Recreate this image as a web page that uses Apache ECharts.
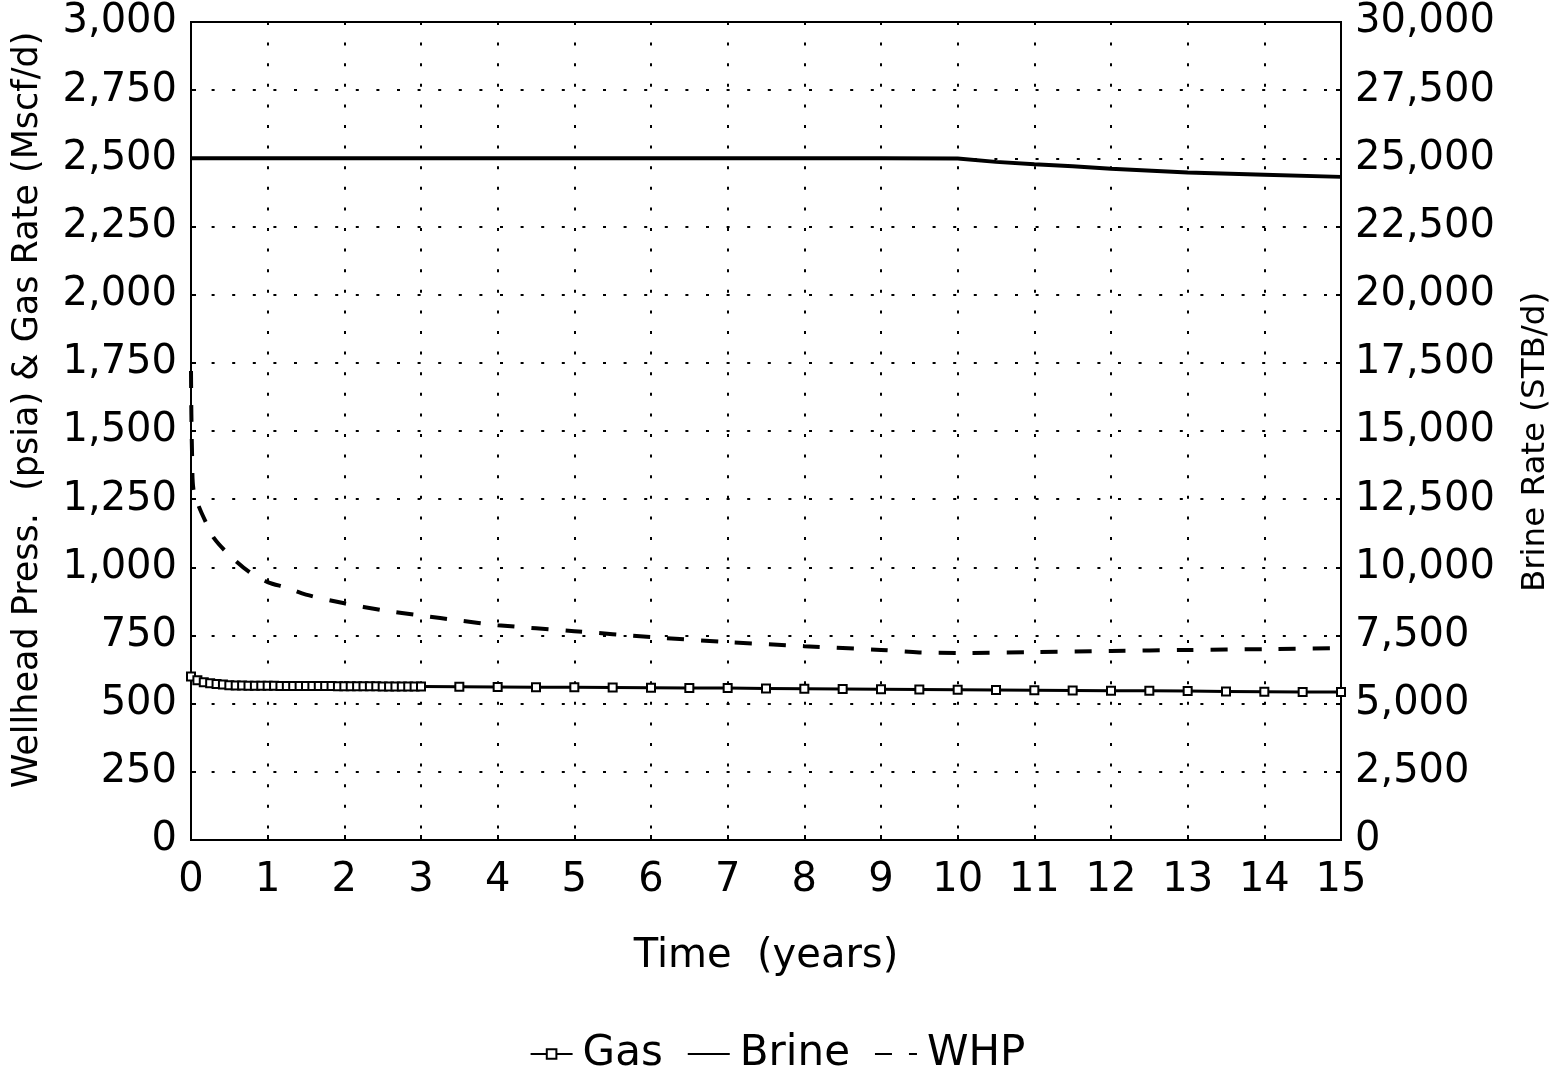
<!DOCTYPE html>
<html>
<head>
<meta charset="utf-8">
<script src="https://cdn.jsdelivr.net/npm/echarts@6/dist/echarts.min.js"></script>
<style>
  html, body { margin: 0; padding: 0; background: #fff; }
  #chart { width: 1555px; height: 1073px; }
</style>
</head>
<body>
<div id="chart"></div>
<script>
// Gas rate (Mscf/d): monthly for the first 3 years, then every half year
const gasTime = [
  0, 1/12, 2/12, 3/12, 4/12, 5/12, 6/12, 7/12, 8/12, 9/12, 10/12, 11/12,
  1, 13/12, 14/12, 15/12, 16/12, 17/12, 18/12, 19/12, 20/12, 21/12, 22/12, 23/12,
  2, 25/12, 26/12, 27/12, 28/12, 29/12, 30/12, 31/12, 32/12, 33/12, 34/12, 35/12,
  3, 3.5, 4, 4.5, 5, 5.5, 6, 6.5, 7, 7.5, 8, 8.5, 9, 9.5, 10, 10.5, 11, 11.5,
  12, 12.5, 13, 13.5, 14, 14.5, 15
];
const gasRate = [
  600, 586, 579, 575, 572, 570, 568, 567, 567, 566, 566, 566,
  566, 566, 565, 565, 565, 565, 565, 565, 565, 565, 565, 564,
  564, 564, 564, 564, 564, 564, 563, 563, 563, 563, 563, 563,
  563, 562, 561, 560, 560, 559, 558, 557, 557, 556, 555, 554, 553, 552, 551, 550, 549, 548,
  547, 547, 546, 545, 544, 543, 543
];

// Brine rate (STB/d)
const brineTime = [0, 1, 2, 3, 4, 5, 6, 7, 8, 9, 10, 10.5, 11, 11.5, 12, 13, 14, 15];
const brineRate = [25000, 25000, 25000, 25000, 25000, 25000, 25000, 25000, 25000, 25000,
  24990, 24870, 24780, 24710, 24620, 24480, 24400, 24320];

// Wellhead pressure (psia)
const whpTime = [0, 0.005, 0.015, 0.03, 0.1, 0.2, 0.3, 0.5, 0.75, 1, 1.25, 1.5, 2, 2.5, 3, 3.5,
  4, 5, 6, 7, 8, 9, 9.5, 10, 11, 12, 13, 14, 15];
const whpPress = [1720, 1560, 1400, 1290, 1225, 1162, 1107, 1045, 985, 946, 925, 900, 868, 843,
  823, 805, 788, 766, 744, 726, 711, 697, 688, 686, 689, 693, 697, 700, 704];

// Axis tick values
const timeTicks = [0, 15, 1];
const leftTicks = [0, 3000, 250];
const rightTicks = [0, 30000, 2500];

const pair = (xs, ys) => xs.map((x, i) => [x, ys[i]]);

const FONT = 'DejaVu Sans';
const chart = echarts.init(document.getElementById('chart'), null, { renderer: 'canvas' });

const dotted = { color: '#000', width: 2, type: [3, 17.6] };
const hideSymbol = { color: 'transparent', borderColor: 'transparent', borderWidth: 0, opacity: 0 };

chart.setOption({
  animation: false,
  backgroundColor: '#fff',
  grid: {
    left: 191, right: 214, top: 22, bottom: 233,
    outerBoundsMode: 'none',
    containLabel: false,
    show: true, borderColor: '#000', borderWidth: 2, backgroundColor: 'transparent'
  },
  legend: {
    bottom: -7,
    left: 'center',
    itemGap: 24,
    itemWidth: 42,
    itemHeight: 12,
    textStyle: { fontFamily: FONT, fontSize: 42, color: '#000', padding: [0, 0, 0, 5] },
    data: [
      { name: 'Gas' },
      { name: 'Brine', itemStyle: hideSymbol },
      { name: 'WHP', itemStyle: hideSymbol }
    ]
  },
  xAxis: {
    type: 'value',
    min: timeTicks[0], max: timeTicks[1], interval: timeTicks[2],
    name: 'Time  (years)',
    nameLocation: 'middle',
    nameGap: 97,
    nameTextStyle: { fontFamily: FONT, fontSize: 40, color: '#000' },
    axisLine: { show: true, lineStyle: { color: '#000', width: 2 } },
    axisTick: { show: true, inside: true, length: 5, lineStyle: { color: '#000', width: 2 } },
    axisLabel: { fontFamily: FONT, fontSize: 40, color: '#000', margin: 21 },
    splitLine: { show: true, lineStyle: dotted }
  },
  yAxis: [
    {
      type: 'value',
      min: leftTicks[0], max: leftTicks[1], interval: leftTicks[2],
      name: 'Wellhead Press.  (psia) & Gas Rate (Mscf/d)',
      nameLocation: 'middle',
      nameGap: 146,
      nameRotate: 90,
      nameTextStyle: { fontFamily: FONT, fontSize: 35, color: '#000', padding: [0, 0, 0, 42] },
      axisLine: { show: true, lineStyle: { color: '#000', width: 2 } },
      axisTick: { show: true, inside: true, length: 5, lineStyle: { color: '#000', width: 2 } },
      axisLabel: {
        fontFamily: FONT, fontSize: 40, color: '#000', margin: 14,
        formatter: v => v.toLocaleString('en-US')
      },
      splitLine: { show: true, lineStyle: dotted }
    },
    {
      type: 'value',
      min: rightTicks[0], max: rightTicks[1], interval: rightTicks[2],
      name: 'Brine Rate (STB/d)',
      nameLocation: 'middle',
      nameGap: 178,
      nameRotate: 90,
      nameTextStyle: { fontFamily: FONT, fontSize: 32.5, color: '#000', padding: [0, 22, 0, 0] },
      position: 'right',
      axisLine: { show: true, lineStyle: { color: '#000', width: 2 } },
      axisTick: { show: true, inside: true, length: 5, lineStyle: { color: '#000', width: 2 } },
      axisLabel: {
        fontFamily: FONT, fontSize: 40, color: '#000', margin: 14,
        formatter: v => v.toLocaleString('en-US')
      },
      splitLine: { show: false }
    }
  ],
  series: [
    {
      name: 'Gas',
      type: 'line',
      yAxisIndex: 0,
      data: pair(gasTime, gasRate),
      symbol: 'rect',
      symbolSize: 8,
      showAllSymbol: true,
      itemStyle: { color: '#fff', borderColor: '#000', borderWidth: 2 },
      lineStyle: { color: '#000', width: 3 },
      z: 4
    },
    {
      name: 'Brine',
      type: 'line',
      yAxisIndex: 1,
      data: pair(brineTime, brineRate),
      symbol: 'none',
      itemStyle: { color: '#000' },
      lineStyle: { color: '#000', width: 4 },
      z: 3
    },
    {
      name: 'WHP',
      type: 'line',
      yAxisIndex: 0,
      data: pair(whpTime, whpPress),
      symbol: 'none',
      smooth: 0.3,
      itemStyle: { color: '#000' },
      lineStyle: { color: '#000', width: 4, type: [17, 17] },
      z: 3
    }
  ]
});
</script>
</body>
</html>
